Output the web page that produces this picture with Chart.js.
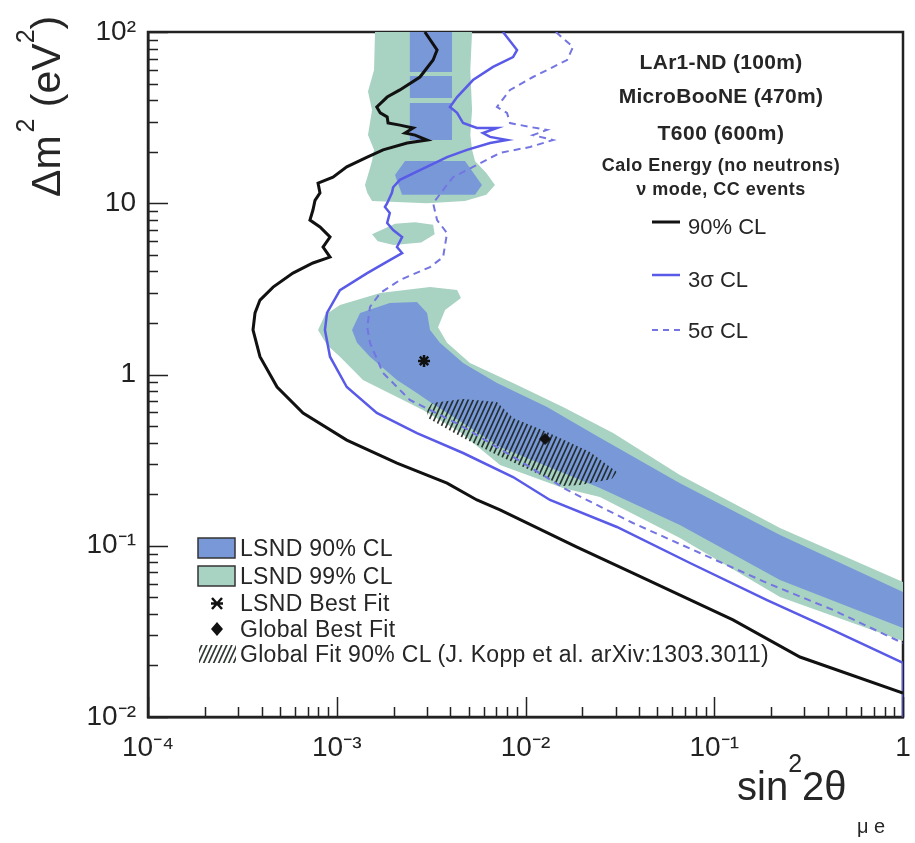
<!DOCTYPE html>
<html><head><meta charset="utf-8">
<script src="https://cdn.jsdelivr.net/npm/chart.js@4/dist/chart.umd.min.js"></script>
<style>
html,body{margin:0;padding:0;background:#fff;}
#wrap{position:relative;width:915px;height:843px;overflow:hidden;font-family:'Liberation Sans',Arial,Helvetica,sans-serif;color:#262626;}
canvas{position:absolute;left:0;top:0;}
.t{position:absolute;white-space:nowrap;}
.b{font-weight:bold;}
</style></head><body>
<div id="wrap">
<canvas id="c" width="915" height="843"></canvas>

<div class="t b" style="left:560px;width:322px;text-align:center;top:50px;line-height:24px;font-size:21px;letter-spacing:0.3px;">LAr1-ND (100m)</div>
<div class="t b" style="left:560px;width:322px;text-align:center;top:84px;line-height:24px;font-size:21px;letter-spacing:0.3px;">MicroBooNE (470m)</div>
<div class="t b" style="left:560px;width:322px;text-align:center;top:121px;line-height:24px;font-size:21px;letter-spacing:0.5px;">T600 (600m)</div>
<div class="t b" style="left:560px;width:322px;text-align:center;top:154px;line-height:22px;font-size:18px;letter-spacing:0.5px;">Calo Energy (no neutrons)</div>
<div class="t b" style="left:560px;width:322px;text-align:center;top:178px;line-height:22px;font-size:18px;letter-spacing:0.5px;">ν mode, CC events</div>

<div class="t" style="left:688px;top:214px;line-height:26px;font-size:22px;">90% CL</div>
<div class="t" style="left:688px;top:267px;line-height:26px;font-size:22px;">3σ CL</div>
<div class="t" style="left:688px;top:318px;line-height:26px;font-size:22px;">5σ CL</div>

<div class="t" style="left:240px;top:535px;line-height:26px;font-size:23px;letter-spacing:0.3px;">LSND 90% CL</div>
<div class="t" style="left:240px;top:563px;line-height:26px;font-size:23px;letter-spacing:0.3px;">LSND 99% CL</div>
<div class="t" style="left:240px;top:590px;line-height:26px;font-size:23px;letter-spacing:0.3px;">LSND Best Fit</div>
<div class="t" style="left:240px;top:616px;line-height:26px;font-size:23px;letter-spacing:0.3px;">Global Best Fit</div>
<div class="t" style="left:240px;top:641px;line-height:26px;font-size:23px;letter-spacing:0.3px;">Global Fit 90% CL (J. Kopp et al. arXiv:1303.3011)</div>

<div class="t" style="left:0;top:0;font-size:41px;line-height:46px;transform-origin:0 0;transform:translate(23px,197px) rotate(-90deg);">Δm<span style="font-size:25px;position:relative;top:-26px;margin-left:3px;">2</span> (eV<span style="font-size:25px;position:relative;top:-26px;">2</span>)</div>
<div class="t" style="left:737px;top:763px;font-size:40px;line-height:46px;">sin<span style="font-size:25px;position:relative;top:-28px;">2</span>2θ</div>
<div class="t" style="left:857px;top:814px;font-size:20px;line-height:24px;">μ e</div>
</div>
<script>
// ---------- data ----------
const xTicks = [1e-4, 1e-3, 1e-2, 1e-1, 1];
const xTickLabels = ['10⁻⁴', '10⁻³', '10⁻²', '10⁻¹', '1'];
const yTicks = [1e-2, 1e-1, 1, 10, 100];
const yTickLabels = ['10⁻²', '10⁻¹', '1', '10', '10²'];

// 90% CL sensitivity (black)
const cl90 = [[2.93e-3,100],[3.40e-3,78.5],[3.24e-3,68.6],[2.76e-3,54.6],[2.16e-3,45.9],[1.85e-3,41.7],[1.63e-3,36.5],[1.70e-3,33.7],[1.85e-3,31.9],[1.87e-3,29.4],[2.16e-3,28.6],[2.54e-3,27.5],[2.30e-3,25.7],[2.60e-3,25.0],[3.01e-3,23.4],[2.36e-3,22.5],[1.76e-3,20.5],[1.45e-3,18.6],[1.13e-3,16.3],[9.55e-4,14.2],[7.96e-4,13.1],[8.15e-4,11.5],[7.67e-4,10.4],[7.48e-4,9.13],[7.21e-4,7.98],[8.15e-4,7.27],[9.21e-4,6.35],[8.46e-4,5.55],[9.21e-4,4.85],[7.48e-4,4.48],[5.86e-4,3.91],[4.60e-4,3.24],[3.92e-4,2.72],[3.69e-4,2.29],[3.60e-4,1.82],[3.92e-4,1.27],[4.83e-4,0.845],[6.63e-4,0.596],[1.13e-3,0.414],[2.085e-3,0.304],[3.84e-3,0.232],[5.53e-3,0.185],[7.33e-3,0.162],[1.874e-2,0.0983],[3.71e-2,0.0693],[0.1257,0.0369],[0.2846,0.0224],[1,0.0138]];
// 3 sigma CL (blue solid)
const sigma3 = [[7.60e-3,100],[9.02e-3,78.5],[8.59e-3,71.4],[6.73e-3,62.5],[5.27e-3,52.4],[4.34e-3,41.7],[3.98e-3,36.5],[4.34e-3,33.7],[4.67e-3,29.4],[5.53e-3,27.5],[7.06e-3,27.5],[5.95e-3,25.7],[6.49e-3,24.4],[7.98e-3,23.4],[6.49e-3,22.5],[4.90e-3,20.5],[3.84e-3,18.6],[2.76e-3,15.6],[2.16e-3,13.7],[1.99e-3,12.4],[1.96e-3,11.5],[1.85e-3,10.0],[1.80e-3,9.51],[1.91e-3,8.77],[1.85e-3,7.67],[1.99e-3,6.98],[2.22e-3,6.35],[2.085e-3,5.55],[2.22e-3,5.12],[1.91e-3,4.66],[1.45e-3,3.91],[1.04e-3,3.11],[8.88e-4,2.29],[8.66e-4,1.82],[9.21e-4,1.27],[1.13e-3,0.845],[1.63e-3,0.596],[2.66e-3,0.455],[4.67e-3,0.348],[8.59e-3,0.252],[1.348e-2,0.185],[3.05e-2,0.1287],[7.44e-2,0.0793],[0.1904,0.0482],[0.4256,0.0322],[1,0.0207],[1,0.01]];
// 5 sigma CL (blue dashed)
const sigma5 = [[1.45e-2,100],[1.785e-2,81.7],[1.66e-2,68.6],[1.096e-2,54.6],[8.28e-3,45.9],[7.06e-3,36.5],[7.98e-3,33.7],[8.28e-3,29.4],[1.056e-2,27.9],[1.30e-2,26.8],[1.096e-2,25.0],[1.399e-2,23.4],[1.056e-2,21.3],[7.33e-3,19.7],[5.27e-3,16.3],[4.13e-3,14.2],[3.66e-3,11.95],[3.24e-3,10.0],[3.40e-3,7.98],[3.84e-3,6.70],[3.66e-3,4.85],[3.12e-3,4.24],[2.16e-3,3.56],[1.70e-3,2.99],[1.50e-3,2.48],[1.45e-3,1.89],[1.50e-3,1.53],[1.76e-3,1.02],[2.44e-3,0.710],[4.50e-3,0.507],[8.28e-3,0.339],[1.66e-2,0.2117],[3.71e-2,0.1358],[8.40e-2,0.0907],[0.1904,0.0606],[0.4256,0.0422],[1,0.0270]];

// LSND 99% CL regions (green)
const lsnd99Main = [[7.96e-4,1.82],[8.66e-4,2.225],[1.04e-3,2.545],[1.70e-3,2.99],[3.12e-3,3.24],[4.34e-3,3.11],[4.55e-3,2.797],[3.75e-3,2.38],[3.44e-3,1.89],[3.84e-3,1.53],[5.08e-3,1.168],[8.59e-3,0.892],[1.58e-2,0.646],[2.91e-2,0.455],[6.58e-2,0.259],[0.223,0.127],[1,0.0614],[1,0.0278],[0.223,0.0502],[6.58e-2,0.111],[2.48e-2,0.1927],[1.58e-2,0.2174],[7.33e-3,0.296],[4.50e-3,0.4615],[2.86e-3,0.620],[2.085e-3,0.739],[1.377e-3,0.929],[1.04e-3,1.27],[8.88e-4,1.487]];
const lsnd99Column = [[1.595e-3,100],[5.21e-3,100],[5.10e-3,60],[5.21e-3,35],[5.10e-3,25],[5.21e-3,20.5],[5.40e-3,17.65],[6.2e-3,15.0],[6.89e-3,12.8],[6.2e-3,11.2],[4.78e-3,10.3],[3.0e-3,10.0],[1.538e-3,10.3],[1.45e-3,11.5],[1.411e-3,12.8],[1.464e-3,14.6],[1.538e-3,17.65],[1.576e-3,20.5],[1.464e-3,25],[1.538e-3,35],[1.464e-3,45],[1.576e-3,60]];
const lsnd99Island = [[1.538e-3,6.6],[2.035e-3,7.6],[2.6e-3,7.75],[3.24e-3,7.5],[3.3e-3,6.6],[2.8e-3,5.9],[2.0e-3,5.7],[1.65e-3,6.0]];

// LSND 90% CL regions (blue)
const lsnd90Main = [[1.205e-3,1.82],[1.329e-3,2.29],[1.91e-3,2.615],[2.66e-3,2.65],[3.01e-3,2.29],[3.12e-3,1.82],[3.52e-3,1.53],[4.67e-3,1.168],[7.06e-3,0.892],[1.30e-2,0.646],[2.39e-2,0.4375],[6.58e-2,0.232],[0.223,0.1156],[1,0.0537],[1,0.0331],[0.223,0.0631],[6.58e-2,0.1322],[2.48e-2,0.2174],[7.33e-3,0.377],[3.12e-3,0.691],[2.66e-3,0.780],[2.085e-3,0.929],[1.50e-3,1.27],[1.281e-3,1.53]];
const lsnd90Col1 = [[2.44e-3,100],[4.08e-3,100],[4.08e-3,58.4],[2.44e-3,58.4]];
const lsnd90Col2 = [[2.44e-3,55.4],[4.08e-3,55.4],[4.08e-3,41.2],[2.44e-3,41.2]];
const lsnd90Col3 = [[2.44e-3,38.5],[4.08e-3,38.5],[4.08e-3,23.4],[2.44e-3,23.4]];
const lsnd90Lump = [[2.30e-3,17.65],[4.78e-3,17.65],[5.88e-3,12.8],[5.4e-3,11.2],[2.22e-3,11.2],[2.035e-3,14.6]];

// Global fit 90% CL (hatched)
const globalFit90 = [[3.01e-3,0.620],[3.20e-3,0.682],[4.67e-3,0.719],[7.06e-3,0.691],[8.59e-3,0.557],[1.30e-2,0.4615],[2.196e-2,0.353],[3.05e-2,0.270],[2.87e-2,0.2454],[1.944e-2,0.2263],[1.58e-2,0.2233],[1.056e-2,0.277],[7.06e-3,0.339],[4.67e-3,0.4258],[3.52e-3,0.507],[3.04e-3,0.557]];

const lsndBestFit = [[2.9e-3, 1.2]];
const globalBestFit = [[1.27e-2, 0.42]];

// ---------- styling ----------
const BLUE_FILL = '#7898d8';
const GREEN_FILL = '#a8d2c2';
const LINE_BLACK = '#111111';
const LINE_BLUE = '#5a5ae8';
const LINE_DASH = '#7474e2';

function pts(a){ return a.map(p => ({x:p[0], y:p[1]})); }
function hatchPattern(){
  const c = document.createElement('canvas'); c.width = 5; c.height = 11;
  const g = c.getContext('2d');
  g.strokeStyle = 'rgba(28,38,32,0.92)'; g.lineWidth = 1.7;
  for (const o of [-5, 0, 5]) { g.beginPath(); g.moveTo(o-0.5, 12.1); g.lineTo(o+5.5, -1.1); g.stroke(); }
  return g.createPattern(c, 'repeat');
}
const HATCH = hatchPattern();

function region(data, color, order){
  return {data: pts(data), showLine: true, fill: 'shape', backgroundColor: color, borderWidth: 0, borderColor: 'rgba(0,0,0,0)', pointRadius: 0, order: order};
}
function curve(data, color, width, dash, order){
  return {data: pts(data), showLine: true, fill: false, borderColor: color, borderWidth: width, borderDash: dash, pointRadius: 0, order: order};
}

const framePlugin = {
  id: 'frame',
  beforeDatasetsDraw(chart){
    const {ctx, chartArea: a} = chart;
    ctx.save(); ctx.strokeStyle = '#222'; ctx.lineWidth = 2.5;
    ctx.strokeRect(a.left, a.top, a.right - a.left, a.bottom - a.top);
    ctx.restore();
  },
  afterDatasetsDraw(chart){
    const {ctx, chartArea: a, scales: {x, y}} = chart;
    ctx.save(); ctx.strokeStyle = '#222'; ctx.lineWidth = 1.5; ctx.beginPath();
    for (let d = -4; d <= 0; d++) for (let m = 1; m <= 9; m++) {
      const v = m * Math.pow(10, d); if (v > 1.000001) break;
      const px = Math.round(x.getPixelForValue(v)) + 0.5; const L = m === 1 ? 20 : 10;
      ctx.moveTo(px, a.bottom); ctx.lineTo(px, a.bottom - L);
    }
    for (let d = -2; d <= 2; d++) for (let m = 1; m <= 9; m++) {
      const v = m * Math.pow(10, d); if (v > 100.0001) break;
      const py = Math.round(y.getPixelForValue(v)) + 0.5; const L = m === 1 ? 20 : 10;
      ctx.moveTo(a.left, py); ctx.lineTo(a.left + L, py);
    }
    ctx.stroke(); ctx.restore();
  },
  afterDraw(chart){
    const ctx = chart.ctx; ctx.save();
    // bottom-left legend swatches
    ctx.lineWidth = 1.5; ctx.strokeStyle = '#333';
    ctx.fillStyle = BLUE_FILL; ctx.fillRect(198, 538, 37, 20); ctx.strokeRect(198, 538, 37, 20);
    ctx.fillStyle = GREEN_FILL; ctx.fillRect(198, 566, 37, 20); ctx.strokeRect(198, 566, 37, 20);
    // LSND best fit symbol
    ctx.strokeStyle = '#111'; ctx.lineWidth = 2.5; ctx.beginPath();
    ctx.moveTo(212, 598); ctx.lineTo(222, 609); ctx.moveTo(222, 598); ctx.lineTo(212, 609);
    ctx.moveTo(211, 603.5); ctx.lineTo(223, 603.5); ctx.stroke();
    // global best fit symbol
    ctx.fillStyle = '#111'; ctx.beginPath();
    ctx.moveTo(217, 622); ctx.lineTo(223, 629); ctx.lineTo(217, 636); ctx.lineTo(211, 629); ctx.closePath(); ctx.fill();
    // hatch swatch
    ctx.fillStyle = HATCH; ctx.fillRect(199, 645, 37, 18);
    // top-right legend lines
    ctx.lineWidth = 3; ctx.strokeStyle = LINE_BLACK; ctx.beginPath(); ctx.moveTo(652, 222); ctx.lineTo(680, 222); ctx.stroke();
    ctx.lineWidth = 2.5; ctx.strokeStyle = LINE_BLUE; ctx.beginPath(); ctx.moveTo(652, 275); ctx.lineTo(680, 275); ctx.stroke();
    ctx.lineWidth = 2; ctx.strokeStyle = LINE_DASH; ctx.setLineDash([6, 5]); ctx.beginPath(); ctx.moveTo(652, 330); ctx.lineTo(681, 330); ctx.stroke();
    ctx.restore();
  }
};

const tickFont = {family: "'Liberation Sans Narrow','Liberation Sans',Arial,sans-serif", size: 28};

new Chart(document.getElementById('c'), {
  type: 'scatter',
  data: {
    datasets: [
      region(lsnd99Main, GREEN_FILL, 40),
      region(lsnd99Column, GREEN_FILL, 40),
      region(lsnd99Island, GREEN_FILL, 40),
      region(lsnd90Main, BLUE_FILL, 30),
      region(lsnd90Col1, BLUE_FILL, 30),
      region(lsnd90Col2, BLUE_FILL, 30),
      region(lsnd90Col3, BLUE_FILL, 30),
      region(lsnd90Lump, BLUE_FILL, 30),
      region(globalFit90, HATCH, 20),
      curve(sigma5, LINE_DASH, 2, [7, 5], 10),
      curve(sigma3, LINE_BLUE, 2.5, [], 9),
      curve(cl90, LINE_BLACK, 3, [], 8),
      {data: pts(lsndBestFit), pointStyle: 'star', pointRadius: 6, borderWidth: 2.5, borderColor: '#111', backgroundColor: '#111', order: 2},
      {data: pts(globalBestFit), pointStyle: 'rectRot', pointRadius: 5.5, borderWidth: 1, borderColor: '#111', backgroundColor: '#111', order: 1}
    ]
  },
  options: {
    responsive: false, animation: false, events: [],
    layout: {padding: {top: 32, right: 12, left: 0, bottom: 0}},
    plugins: {legend: {display: false}, tooltip: {enabled: false}},
    scales: {
      x: {
        type: 'logarithmic', min: 1e-4, max: 1,
        afterBuildTicks: s => { s.ticks = xTicks.map(v => ({value: v})); },
        afterFit: s => { s.height = 126; s.paddingLeft = 0; s.paddingRight = 0; },
        ticks: {callback: v => xTickLabels[Math.round(Math.log10(v)) + 4], font: tickFont, color: '#222', padding: 14, maxRotation: 0, autoSkip: false},
        grid: {display: false, drawTicks: false},
        border: {display: true, color: '#222', width: 2.5}
      },
      y: {
        type: 'logarithmic', min: 1e-2, max: 100,
        afterBuildTicks: s => { s.ticks = yTicks.map(v => ({value: v})); },
        afterFit: s => { s.width = 148; s.paddingTop = 0; s.paddingBottom = 0; },
        ticks: {callback: v => yTickLabels[Math.round(Math.log10(v)) + 2], font: tickFont, color: '#222', padding: 12, autoSkip: false},
        grid: {display: false, drawTicks: false},
        border: {display: true, color: '#222', width: 2.5}
      }
    }
  },
  plugins: [framePlugin]
});
</script>
</body></html>
